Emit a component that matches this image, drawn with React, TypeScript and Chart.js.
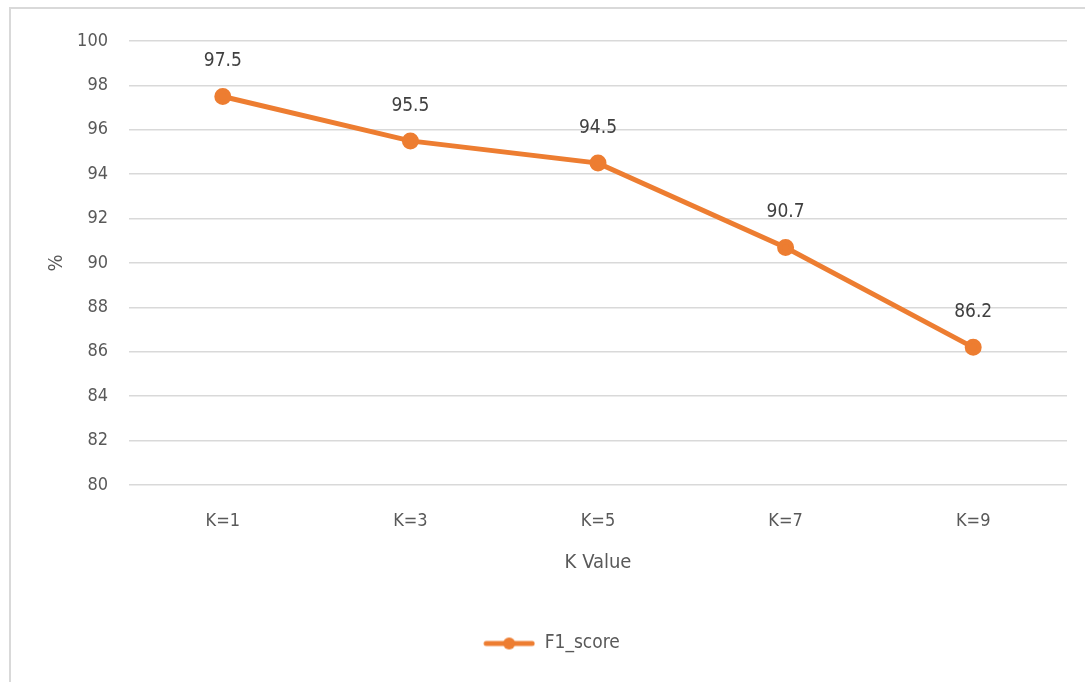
import React, { useEffect, useRef } from "react";
import { Chart, registerables } from "chart.js";

Chart.register(...registerables);

const categories = ["K=1", "K=3", "K=5", "K=7", "K=9"];
const f1Scores = [97.5, 95.5, 94.5, 90.7, 86.2];
const seriesName = "F1_score";
const xTitle = "K Value";
const yTitle = "%";
const yMin = 80;
const yMax = 100;
const yStep = 2;

const ORANGE = "#ED7D31";
const GRID = "#d9d9d9";
const TEXT = "#595959";
const LABEL = "#404040";
const FONT = '"Liberation Sans Narrow", "DejaVu Sans Condensed", "Noto Sans", sans-serif';

const ICON_W = 88;

function makeLegendIcon(): HTMLCanvasElement {
  const c = document.createElement("canvas");
  c.width = ICON_W;
  c.height = 14;
  const ctx = c.getContext("2d")!;
  const off = ICON_W - 52;
  ctx.strokeStyle = ORANGE;
  ctx.lineWidth = 5;
  ctx.lineCap = "round";
  ctx.beginPath();
  ctx.moveTo(off + 3, 7);
  ctx.lineTo(off + 49, 7);
  ctx.stroke();
  ctx.fillStyle = ORANGE;
  ctx.beginPath();
  ctx.arc(off + 26, 7, 6, 0, Math.PI * 2);
  ctx.fill();
  return c;
}

const borderPlugin = {
  id: "frameBorder",
  beforeDraw(chart: any) {
    const ctx = chart.ctx;
    ctx.save();
    ctx.strokeStyle = GRID;
    ctx.lineWidth = 2;
    ctx.beginPath();
    ctx.moveTo(10, chart.height);
    ctx.lineTo(10, 8);
    ctx.lineTo(chart.width, 8);
    ctx.stroke();
    ctx.restore();
  },
};

const valueLabelPlugin = {
  id: "valueLabels",
  afterDatasetsDraw(chart: any) {
    const ctx = chart.ctx;
    const meta = chart.getDatasetMeta(0);
    const data = chart.data.datasets[0].data as number[];
    ctx.save();
    ctx.fillStyle = LABEL;
    ctx.font = `19px ${FONT}`;
    ctx.textAlign = "center";
    ctx.textBaseline = "middle";
    meta.data.forEach((pt: any, i: number) => {
      ctx.fillText(String(data[i]), pt.x, pt.y - 35);
    });
    ctx.restore();
  },
};

export default function App() {
  const ref = useRef<HTMLCanvasElement | null>(null);

  useEffect(() => {
    if (!ref.current) return;
    const icon = makeLegendIcon();
    const chart = new Chart(ref.current, {
      type: "line",
      data: {
        labels: categories,
        datasets: [
          {
            label: seriesName,
            data: f1Scores,
            borderColor: ORANGE,
            backgroundColor: ORANGE,
            borderWidth: 5,
            pointRadius: 6,
            pointHoverRadius: 6,
            pointBackgroundColor: ORANGE,
            pointBorderColor: ORANGE,
            tension: 0,
          },
        ],
      },
      options: {
        responsive: false,
        animation: false,
        layout: { padding: { top: 41, right: 18, left: 0, bottom: 19 } },
        plugins: {
          tooltip: { enabled: false },
          legend: {
            position: "bottom",
            labels: {
              usePointStyle: true,
              pointStyleWidth: ICON_W,
              color: TEXT,
              font: { family: FONT, size: 19 },
              generateLabels: (c: any) => [
                {
                  text: seriesName,
                  pointStyle: icon,
                  fillStyle: ORANGE,
                  strokeStyle: ORANGE,
                  lineWidth: 0,
                  hidden: false,
                  datasetIndex: 0,
                  fontColor: TEXT,
                },
              ],
            },
          },
        },
        scales: {
          x: {
            type: "category",
            offset: true,
            grid: { display: false, drawTicks: false },
            border: { display: false },
            ticks: { color: TEXT, font: { family: FONT, size: 18 }, padding: 26 },
            title: {
              display: true,
              text: xTitle,
              color: TEXT,
              font: { family: FONT, size: 20 },
              padding: { top: 0, bottom: 49 },
            },
            afterFit: (s: any) => {
              s.height = 139;
            },
          },
          y: {
            min: yMin,
            max: yMax,
            ticks: {
              stepSize: yStep,
              color: TEXT,
              font: { family: FONT, size: 18 },
              padding: 21,
            },
            grid: { color: GRID, lineWidth: 1.5, drawTicks: false },
            border: { display: false },
            title: {
              display: true,
              text: yTitle,
              color: TEXT,
              font: { family: FONT, size: 20 },
              padding: { top: 45, bottom: 0 },
            },
            afterFit: (s: any) => {
              s.width = 129;
            },
          },
        },
      },
      plugins: [borderPlugin, valueLabelPlugin],
    });
    return () => chart.destroy();
  }, []);

  return (
    <div style={{ position: "fixed", left: 0, top: 0, width: 1085, height: 682, background: "#fff" }}>
      <canvas ref={ref} width={1085} height={682} style={{ display: "block" }} />
    </div>
  );
}
